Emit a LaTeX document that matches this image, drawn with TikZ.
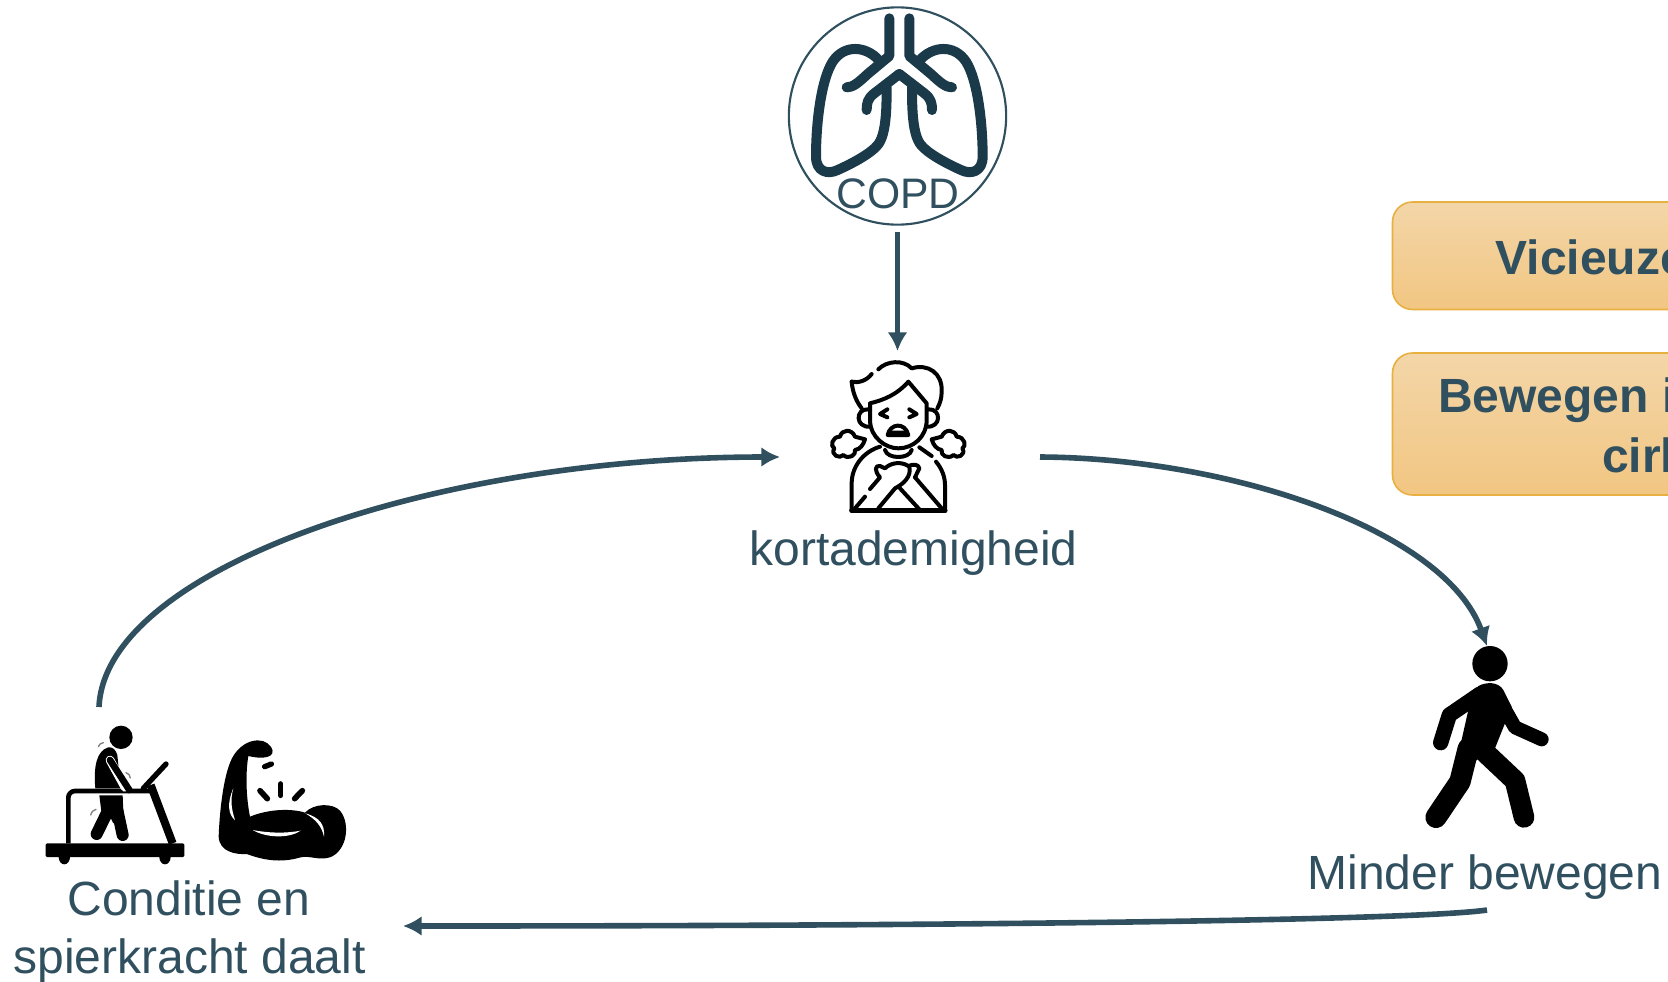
\documentclass[tikz,border=0pt]{standalone}
\usepackage{fontspec}
\setmainfont{Liberation Sans}
\usetikzlibrary{arrows.meta,calc}
\definecolor{slate}{HTML}{30505F}
\definecolor{lung}{HTML}{1A3A4A}
\definecolor{boxtop}{HTML}{F3D6A8}
\definecolor{boxbot}{HTML}{F2C682}
\definecolor{boxline}{HTML}{E8B040}
\tikzset{
  x=0.75pt,y=-0.75pt,
  z/.style={line width=#1*0.25pt},
  flow/.style={draw=slate,line width=4.2pt,-{Latex[length=14pt,width=15pt]}},
  lbl/.style={text=slate,font=\fontsize{36pt}{40pt}\selectfont,anchor=base,inner sep=0pt},
  boxlbl/.style={text=slate,font=\fontsize{36pt}{40pt}\selectfont\bfseries,anchor=base west,inner sep=0pt},
  hold/.style={inner sep=0pt,outer sep=0pt,minimum width=#1},
  orange/.style={draw=boxline,line width=1.2pt,rounded corners=15pt,top color=boxtop,bottom color=boxbot},
  ink/.style={draw=black,line cap=round,line join=round},
  thinink/.style={ink,z=12,fill=none},
  vib/.style={draw=gray,z=4,line cap=round},
}
\begin{document}
\begin{tikzpicture}
\useasboundingbox (0,0) rectangle (1668,982);
\clip (0,0) rectangle (1668,982);
\fill[white] (0,0) rectangle (1668,982);

% orange boxes
\draw[orange] (1392.5,202) rectangle (1760,309.5);
\draw[orange] (1392.5,353) rectangle (1760,495);
\node[boxlbl] (vic) at (1495.5,274) {Vicieuze};
\node[boxlbl] (bew) at (1438,412) {Bewegen in};
\node[boxlbl] (cir) at (1602,472) {cirkel};

% COPD
\node[draw=slate,line width=1.6pt,circle,minimum size=163pt,inner sep=0pt] (copd) at (897.5,116) {};
\begin{scope}[shift={(770,0)},scale=1/3]
  \foreach \m in {1,-1}{
   \begin{scope}[shift={(388,0)},xscale=\m]
    \draw[draw=lung,z=30,line cap=round,line join=round]
      (-30,55) -- (-30,168) -- (-95,222) .. controls (-125,250) and (-140,262) .. (-158,262);
    \draw[draw=lung,z=30,line cap=round,line join=round]
      (-62,180) .. controls (-100,138) and (-165,132) .. (-200,185)
      .. controls (-235,240) and (-250,370) .. (-250,470)
      .. controls (-250,515) and (-215,525) .. (-185,510)
      .. controls (-140,490) and (-85,460) .. (-65,435)
      .. controls (-40,405) and (-38,330) .. (-38,262);
    \draw[draw=lung,z=30,line cap=round,line join=round]
      (0,222) -- (-75,280) .. controls (-95,295) and (-98,310) .. (-98,330);
   \end{scope}}
\end{scope}
\node[lbl,font=\fontsize{32pt}{34pt}\selectfont] (copdt) at (898,208) {COPD};

% breathless person
\node[hold=260*0.75pt,minimum height=216*0.75pt] (breath) at (910,457) {};
\begin{scope}[shift={(800,340)},scale=1/3]
  \draw[thinink] (155,125) .. controls (175,130) and (200,122) .. (215,102);
  \draw[thinink] (235,88) .. controls (260,62) and (310,58) .. (335,85) .. controls (385,70) and (428,100) .. (425,155) .. controls (425,175) and (420,190) .. (412,205);
  \draw[thinink] (155,125) .. controls (158,160) and (170,185) .. (185,205);
  \draw[thinink] (210,190) -- (210,245) .. controls (212,290) and (255,325) .. (295,325) .. controls (340,325) and (380,290) .. (380,240) -- (380,190) -- (325,125) .. controls (290,165) and (250,180) .. (210,190);
  \draw[thinink] (205,208) .. controls (165,205) and (165,265) .. (212,260);
  \draw[thinink] (385,208) .. controls (425,205) and (425,265) .. (378,260);
  \draw[thinink] (262,208) -- (240,222) -- (262,232);
  \draw[thinink] (328,208) -- (350,222) -- (328,232);
  \draw[thinink,fill=white] (263,285) .. controls (270,250) and (315,245) .. (325,285) -- cycle;
  \fill (265,272) -- (323,272) -- (326,287) -- (262,287) -- cycle;
  \foreach \m in {1,-1}{
   \begin{scope}[shift={(295,0)},xscale=\m]
    \draw[thinink] (-100,298) -- (-130,290) .. controls (-140,265) and (-170,268) .. (-175,290) .. controls (-200,290) and (-205,320) .. (-192,325) .. controls (-205,345) and (-175,358) .. (-165,345) .. controls (-150,360) and (-125,345) .. (-130,330) .. controls (-115,328) and (-105,315) .. (-100,298);
   \end{scope}}
  \draw[thinink] (240,320) .. controls (190,335) and (155,380) .. (155,430) -- (155,512);
  \draw[thinink] (358,322) -- (395,348);
  \draw[thinink] (408,365) .. controls (425,385) and (435,410) .. (435,435) -- (435,512);
  \draw[ink,z=15] (155,512) -- (435,512);
  \draw[thinink] (255,330) .. controls (262,358) and (328,358) .. (335,330);
  \draw[thinink] (165,505) -- (195,470);
  \draw[thinink] (210,447) -- (240,412) .. controls (222,392) and (225,375) .. (240,378) -- (255,385) .. controls (270,370) and (300,362) .. (325,378) .. controls (340,372) and (355,372) .. (358,385) -- (345,412);
  \draw[thinink] (328,380) .. controls (335,410) and (310,432) .. (285,445) -- (235,505);
  \draw[thinink] (300,445) -- (358,508);
  \draw[thinink] (345,412) -- (425,505);
\end{scope}
\node[lbl] (kort) at (913.5,565.5) {kortademigheid};

% treadmill figure
\node[hold=2pt,minimum height=2pt,anchor=north] (mill) at (99,707) {};
\begin{scope}[shift={(30,710)},scale=1/3]
  \fill[black,rounded corners=1pt] (47,400) rectangle (463,441);
  \fill (86,441) arc[start angle=180,end angle=360,x radius=17,y radius=-22];
  \fill (388,441) arc[start angle=180,end angle=360,x radius=17,y radius=-22];
  \draw[ink,z=14,line cap=butt,rounded corners=5pt] (115,400) -- (115,243) -- (360,243);
  \draw[ink,z=24,line cap=butt] (362,225) -- (428,400);
  \draw[ink,z=16] (340,235) -- (408,162);
  \fill (273,82) circle[radius=35];
  \draw[ink,z=36] (235,300) -- (200,372);
  \draw[ink,z=36] (262,300) -- (278,375);
  \fill[black] (208,256) -- (278,256) -- (280,305) -- (250,340) -- (240,320) -- (218,335) -- cycle;
  \fill (235,112) .. controls (200,122) and (190,170) .. (196,235) -- (272,235) -- (262,135) .. controls (258,120) and (248,110) .. (235,112);
  \draw[white,z=26,line cap=round] (240,150) -- (285,232);
  \draw[ink,z=20] (240,150) -- (298,240);
  \draw[vib] (205,110) .. controls (208,102) and (212,100) .. (220,98);
  \draw[vib] (288,188) .. controls (296,190) and (300,196) .. (301,204);
  \draw[vib] (182,315) .. controls (185,305) and (190,300) .. (198,298);
\end{scope}

% flexed arm
\begin{scope}[shift={(30,710)},scale=1/3]
  \fill (606,145) .. controls (635,88) and (700,75) .. (724,112) .. controls (740,140) and (705,150) .. (655,138)
    .. controls (645,200) and (650,270) .. (660,320)
    .. controls (720,295) and (790,296) .. (825,308)
    .. controls (850,280) and (908,278) .. (930,302)
    .. controls (962,340) and (952,422) .. (900,442)
    .. controls (865,452) and (840,436) .. (812,442)
    .. controls (750,460) and (700,450) .. (650,432)
    .. controls (620,434) and (568,427) .. (566,380)
    .. controls (568,320) and (578,200) .. (606,145) -- cycle;
  \fill[white] (668,360) .. controls (720,370) and (770,370) .. (812,362) .. controls (780,385) and (710,385) .. (668,360) -- cycle;
  \fill[white] (826,310) .. controls (870,322) and (885,345) .. (882,380) .. controls (875,350) and (860,330) .. (826,310) -- cycle;
  \fill[white] (610,235) .. controls (590,280) and (595,315) .. (615,330) .. controls (605,300) and (600,270) .. (610,235) -- cycle;
  \draw[ink,z=17] (690,242) -- (712,266);
  \draw[ink,z=17] (752,222) -- (752,256);
  \draw[ink,z=17] (817,242) -- (794,266);
  \draw[ink,z=16] (704,170) -- (724,162);
\end{scope}
\node[lbl] (cond1) at (189,915) {Conditie en};
\node[lbl] (cond2) at (189.5,973) {spierkracht daalt};
\coordinate (condin) at (403,926);

% walker
\node[hold=2pt,minimum height=2pt,anchor=north] (walker) at (1487,646) {};
\begin{scope}[shift={(1400,620)},scale=1/3]
  \fill (270,131) circle[radius=53];
  \draw[ink,z=46] (240,222) -- (148,285) -- (122,368);
  \draw[ink,z=42] (290,225) -- (345,322) -- (425,358);
  \fill (235,198) .. controls (260,185) and (295,185) .. (310,210) -- (335,260) -- (285,385) -- (215,430) -- (160,470) -- (205,270) -- cycle;
  \draw[ink,z=64] (205,385) -- (180,485) -- (108,592);
  \draw[ink,z=62] (258,400) -- (345,482) -- (372,592);
\end{scope}
\node[lbl] (mind) at (1485,889) {Minder bewegen};
\coordinate (mindout) at (1487,910);

% connectors
\draw[flow,shorten <=4.5pt,shorten >=-1.5pt] (copd.south) -- (copd.south |- breath.north);
\draw[flow] (breath.east) .. controls (1230,458) and (1445,530) .. (walker.north);
\draw[flow] (mindout) .. controls (1420,920) and (1000,926) .. (condin);
\draw[flow] (mill.north) .. controls (105,570) and (430,457) .. (breath.west);
\end{tikzpicture}
\end{document}
